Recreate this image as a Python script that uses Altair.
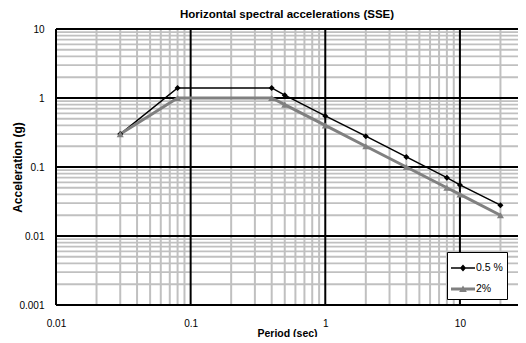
import altair as alt
import pandas as pd

# ---- data ----
periods = [0.03, 0.08, 0.4, 0.5, 1.0, 2.0, 4.0, 8.0, 10.0, 20.0]
acc_05 = [0.30, 1.40, 1.40, 1.10, 0.55, 0.28, 0.14, 0.07, 0.055, 0.028]
acc_2 = [0.30, 1.00, 1.00, 0.80, 0.40, 0.20, 0.10, 0.05, 0.04, 0.02]
series_names = ["0.5 %", "2%"]
series_colors = ["#000000", "#808080"]

x_major = [0.01, 0.1, 1, 10]
y_major = [0.001, 0.01, 0.1, 1, 10]
x_decades = [0.01, 0.1, 1, 10]
y_decades = [0.001, 0.01, 0.1, 1]
x_max = 27

x_minor = [round(d * k, 6) for d in x_decades for k in range(2, 10) if d * k <= x_max]
y_minor = [round(d * k, 6) for d in y_decades for k in range(2, 10)]

df = pd.DataFrame({
    "period": periods + periods,
    "acc": acc_05 + acc_2,
    "series": [series_names[0]] * len(periods) + [series_names[1]] * len(periods),
})

FONT = "Liberation Sans"

xs = alt.Scale(type="log", domain=[0.01, x_max], nice=False)
ys = alt.Scale(type="log", domain=[0.001, 10], nice=False)

xa = alt.Axis(values=x_major, format="~g", grid=False, domain=False, ticks=False,
              labelFont=FONT, labelFontSize=10, labelColor="black", labelPadding=13,
              labelFlush=False, labelOverlap=False, labelBound=False,
              title="Period (sec)", titleFont=FONT, titleFontSize=10.5, titleFontWeight="bold",
              titleColor="black", titleBaseline="alphabetic", titleY=31)
ya = alt.Axis(values=y_major, format="~g", grid=False, domain=False, ticks=False,
              labelFont=FONT, labelFontSize=10, labelColor="black", labelPadding=12,
              labelFlush=False, labelOverlap=False, labelBound=False,
              title="Acceleration  (g)", titleFont=FONT, titleFontSize=12, titleFontWeight="bold",
              titleColor="black", titleX=-39, titleY=138, titleAngle=270,
              titleAlign="center", titleBaseline="middle")

minor_v = alt.Chart(pd.DataFrame({"v": x_minor})).mark_rule(
    color="#c0c0c0", strokeWidth=2).encode(x=alt.X("v:Q", scale=xs, axis=xa))
minor_h = alt.Chart(pd.DataFrame({"v": y_minor})).mark_rule(
    color="#c0c0c0", strokeWidth=1.8).encode(y=alt.Y("v:Q", scale=ys, axis=ya))
major_v = alt.Chart(pd.DataFrame({"v": x_major})).mark_rule(
    color="black", strokeWidth=2).encode(x=alt.X("v:Q", scale=xs, axis=xa))
major_h = alt.Chart(pd.DataFrame({"v": y_major})).mark_rule(
    color="black", strokeWidth=2).encode(y=alt.Y("v:Q", scale=ys, axis=ya))

color_scale = alt.Scale(domain=series_names, range=series_colors)

lines = alt.Chart(df).mark_line().encode(
    x=alt.X("period:Q", scale=xs, axis=xa),
    y=alt.Y("acc:Q", scale=ys, axis=ya),
    color=alt.Color("series:N", scale=color_scale, legend=None),
    strokeWidth=alt.StrokeWidth("series:N", scale=alt.Scale(domain=series_names, range=[1.5, 3]), legend=None),
)
points = alt.Chart(df).mark_point(filled=True, opacity=1).encode(
    x=alt.X("period:Q", scale=xs, axis=xa),
    y=alt.Y("acc:Q", scale=ys, axis=ya),
    color=alt.Color("series:N", scale=color_scale, legend=None),
    shape=alt.Shape("series:N", scale=alt.Scale(domain=series_names, range=["diamond", "triangle-up"]), legend=None),
    size=alt.Size("series:N", scale=alt.Scale(domain=series_names, range=[36, 50]), legend=None),
)

# legend symbols: a short line with the marker on it
sym_a = "M-1,-0.065H1V0.065H-1Z M0,-0.3L0.26,0L0,0.3L-0.26,0Z"
sym_b = "M-1,-0.13H1V0.13H-1Z M0,-0.3L0.32,0.24L-0.32,0.24Z"
leg = alt.Legend(orient="none", legendX=391, legendY=223, title=None,
                 strokeColor="black", fillColor="white", padding=4,
                 symbolSize=576, symbolStrokeWidth=0, labelFont=FONT, labelFontSize=10.5,
                 labelColor="black", rowPadding=3, labelOffset=1)
legend_layer = alt.Chart(df).transform_filter("false").mark_point(filled=True, size=576, opacity=1).encode(
    color=alt.Color("series:N", scale=alt.Scale(domain=series_names, range=series_colors), legend=leg),
    shape=alt.Shape("series:N", scale=alt.Scale(domain=series_names, range=[sym_a, sym_b]), legend=leg),
)

chart = alt.layer(minor_v, minor_h, major_v, major_h, lines, points, legend_layer).resolve_scale(
    color="independent", shape="independent"
).properties(
    width=462, height=276,
    title=alt.TitleParams("Horizontal spectral accelerations (SSE)", font=FONT, fontSize=11.5,
                          fontWeight="bold", color="black", anchor="middle", offset=4),
    autosize=alt.AutoSizeParams(type="none"),
    padding={"left": 48, "top": 21, "right": 0, "bottom": 32},
).configure_view(stroke=None).configure(background="white")

chart.save("out.html", embed_options={"renderer": "svg", "actions": False})
